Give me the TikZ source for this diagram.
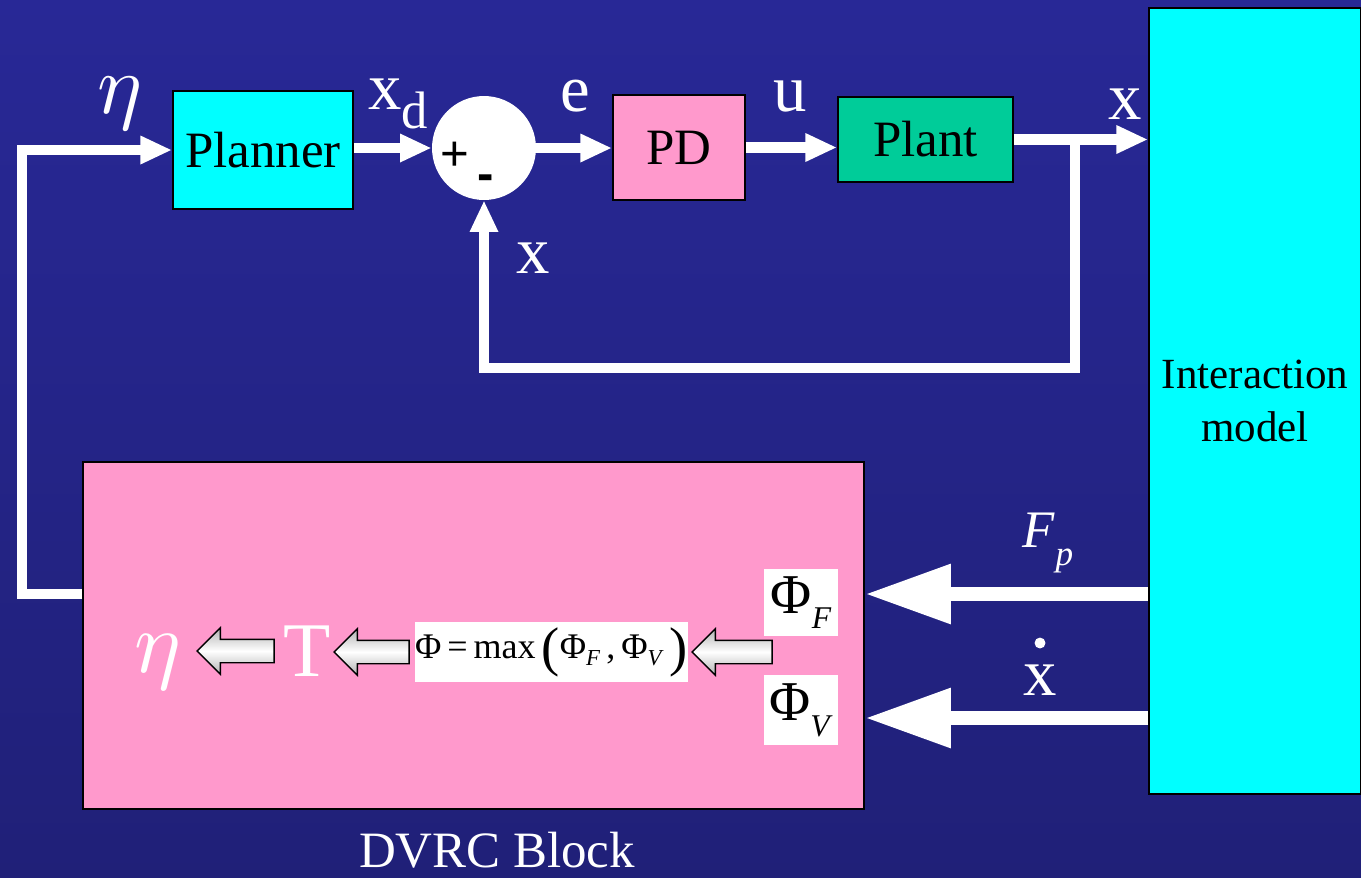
\documentclass[tikz,border=0pt]{standalone}
\usepackage{graphicx}
\usepackage{fontspec}
\setmainfont{Liberation Serif}
\newfontfamily\arialfont{Liberation Sans}
\usetikzlibrary{arrows.meta,shapes.arrows}
\definecolor{slidetop}{RGB}{40,40,150}
\definecolor{slidemid}{RGB}{51,51,204}
\definecolor{slidebottom}{RGB}{32,32,120}
\definecolor{blockcyan}{RGB}{0,255,255}
\definecolor{blockpink}{RGB}{255,153,204}
\definecolor{blockgreen}{RGB}{0,204,153}
\newcommand{\subdrop}[3]{\lower#1\hbox{\fontsize{#2}{#2}\selectfont#3}}
\newcommand{\bigeta}[1]{\scalebox{#1}{\normalsize$\eta$}}

\begin{document}
\begin{tikzpicture}[
    x=0.02cm,
    y=-0.02cm,
    block/.style={
      draw=black,
      line width=1.1pt,
      text=black,
      inner sep=0pt,
      font=\fontsize{29}{31}\selectfont
    },
    flow/.style={
      white,
      line width=6pt,
      -{Triangle[length=18pt,width=15pt]}
    },
    big flow/.style={
      white,
      line width=8.5pt,
      -{Triangle[length=49pt,width=32pt]}
    },
    signal/.style={
      text=white,
      inner sep=0pt,
      font=\fontsize{38}{38}\selectfont
    },
    value box/.style={
      fill=white,
      text=black,
      inner sep=0pt
    },
    block arrow/.style={
      single arrow,
      shape border rotate=180,
      draw=black,
      line width=0.8pt,
      top color=gray!60,
      bottom color=gray!60,
      middle color=white,
      inner xsep=0pt,
      inner ysep=0.22cm,
      single arrow head extend=0.23cm,
      minimum width=0pt
    }
]

% Slide background.
\shade[top color=slidetop, middle color=slidemid, bottom color=slidebottom]
  (0,0) rectangle (1361,877);
\useasboundingbox (0,0) rectangle (1361,877);

% Inner control loop.
\node[block, fill=blockcyan, minimum width=3.6cm, minimum height=2.36cm]
  (planner) at (263,150) {Planner};
\node[circle, fill=white, minimum size=2.08cm, inner sep=0pt]
  (sum) at (484,148) {};
\node[text=black, inner sep=0pt, font=\arialfont\fontsize{28}{28}\selectfont]
  (plus) at (455,156) {+};
\node[text=black, inner sep=0pt, font=\arialfont\bfseries\fontsize{28}{28}\selectfont]
  (minus) at (486,183) {-};
\node[block, fill=blockpink, minimum width=2.64cm, minimum height=2.1cm]
  (pd) at (679,147.5) {PD};
\node[block, fill=blockgreen, minimum width=3.5cm, minimum height=1.7cm]
  (plant) at (925.5,139.5) {Plant};
\node[
  block,
  fill=blockcyan,
  minimum width=4.24cm,
  minimum height=15.72cm,
  align=center,
  font=\fontsize{24.5}{30}\selectfont
] (interaction) at (1255,401) {Interaction\\model};

\node[signal] (etain) at (120,104) {\bigeta{4.8}};
\node[signal] (xd) at (398,104) {x\subdrop{11pt}{30}{d}};
\node[signal] (elabel) at (575,96) {e};
\node[signal] (ulabel) at (790,96) {u};
\node[signal] (xout) at (1125,104) {x};
\node[signal] (xback) at (533,258) {x};

\coordinate (loopcorner) at (22,594);
\coordinate (branch) at (1075,140);
\coordinate (returncorner) at (1075,368);

\draw[flow] (planner.east |- sum) -- (sum.west);
\draw[flow] (sum.east) -- (sum.east -| pd.west);
\draw[flow] (pd.east) -- (pd.east -| plant.west);
\draw[flow] (plant.east) -- (plant.east -| interaction.west);
\draw[flow] (branch) -- (returncorner) -- (returncorner -| sum.south) -- (sum.south);

% DVRC block.
\node[block, fill=blockpink, minimum width=15.62cm, minimum height=6.94cm]
  (dvrc) at (473.5,635.5) {};
\node[signal, font=\fontsize{29}{29}\selectfont] (dvrclabel) at (497,850) {DVRC Block};

\node[value box, minimum width=1.48cm, minimum height=1.34cm, font=\fontsize{32}{32}\selectfont]
  (phiF) at (801,602.5) {Φ\subdrop{9pt}{18}{\textit{F}}};
\node[value box, minimum width=1.48cm, minimum height=1.4cm, font=\fontsize{32}{32}\selectfont]
  (phiV) at (801,710) {Φ\subdrop{9pt}{18}{\textit{V}}};
\node[value box, minimum width=5.46cm, minimum height=1.2cm, font=\fontsize{20.5}{20.5}\selectfont]
  (phimax) at (551.5,652)
  {Φ\,=\,max\,\raisebox{-4pt}{\fontsize{31}{31}\selectfont(}Φ\subdrop{4pt}{13}{\textit{F}}\,,\,Φ\subdrop{4pt}{13}{\textit{V}}\,\raisebox{-4pt}{\fontsize{31}{31}\selectfont)}};
\node[signal, font=\fontsize{44}{44}\selectfont] (torque) at (307,651) {T};
\node[signal] (etaout) at (158,662) {\bigeta{5}};

\node[block arrow, minimum height=1.6cm] (toformula) at (738,652) {};
\node[block arrow, minimum height=1.5cm] (totorque) at (377.5,652) {};
\node[block arrow, minimum height=1.54cm] (toeta) at (241.5,651) {};

\draw[flow] (dvrc.west |- loopcorner) -- (loopcorner) -- (loopcorner |- planner.west) -- (planner.west);

% Signals from the interaction model.
\coordinate[yshift=0.17cm] (fptip) at (phiF.east -| dvrc.east);
\coordinate[yshift=-0.16cm] (vtip) at (phiV.east -| dvrc.east);
\draw[big flow] (fptip -| interaction.west) -- (fptip);
\draw[big flow] (vtip -| interaction.west) -- (vtip);

\node[signal, font=\fontsize{30}{30}\selectfont] (fplabel) at (1048,543)
  {\textit{F}\subdrop{10pt}{20}{\textit{p}}};
\node[signal] (xdotlabel) at (1040,680) {x};
\node[circle, fill=white, inner sep=2.2pt] (xdotmark) at (1040,643) {};

\end{tikzpicture}
\end{document}
